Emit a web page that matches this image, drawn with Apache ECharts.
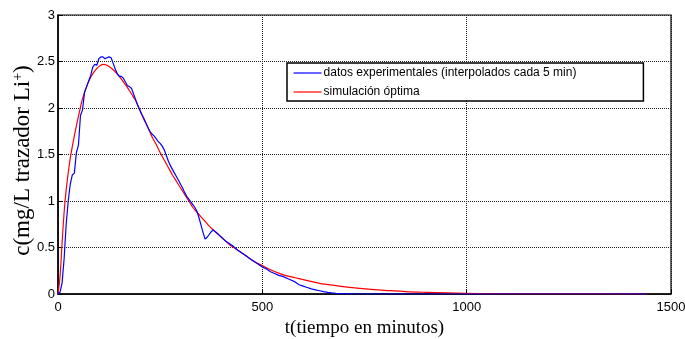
<!DOCTYPE html>
<html><head><meta charset="utf-8">
<script src="https://cdn.jsdelivr.net/npm/echarts@6/dist/echarts.min.js"></script>
<style>html,body{margin:0;padding:0;background:#fff}#c{width:685px;height:339px}</style>
</head><body><div id="c"></div>
<script>
var xTicks = [0, 500, 1000, 1500];
var yTicks = [0, 0.5, 1, 1.5, 2, 2.5, 3];
var seriesNames = ['datos experimentales (interpolados cada 5 min)', 'simulación óptima'];

var expT = [0,5,10,15,20,25,30,35,40,45,50,55,60,65,70,75,80,85,90,95,100,105,110,115,120,125,130,135,140,145,150,155,160,165,170,175,180,185,190,195,200,205,210,215,220,225,230,235,240,245,250,255,260,265,270,275,280,285,290,295,300,305,310,315,320,325,330,335,340,345,350,355,360,365,370,375,380,385,390,395,400,405,410,420,430,440,450,460,470,480,490,500,510,520,530,540,550,560,570,580,590,600,610,620,630,640,650,660,670,680,690,700,720,750,900,1100,1300,1440];
var expC = [0,0.02,0.12,0.38,0.75,1.0,1.18,1.28,1.30,1.52,1.60,1.92,1.98,2.17,2.23,2.29,2.35,2.44,2.47,2.46,2.53,2.55,2.55,2.53,2.54,2.55,2.54,2.48,2.42,2.37,2.34,2.34,2.32,2.28,2.24,2.23,2.21,2.15,2.09,2.03,1.98,1.93,1.89,1.84,1.79,1.75,1.72,1.70,1.67,1.64,1.62,1.59,1.55,1.49,1.43,1.38,1.34,1.30,1.26,1.22,1.18,1.14,1.09,1.05,1.02,0.99,0.96,0.93,0.89,0.82,0.74,0.66,0.59,0.61,0.64,0.67,0.69,0.67,0.65,0.63,0.61,0.59,0.57,0.54,0.51,0.47,0.44,0.41,0.38,0.35,0.32,0.29,0.27,0.24,0.22,0.20,0.19,0.17,0.15,0.13,0.10,0.085,0.07,0.055,0.045,0.035,0.025,0.018,0.012,0.008,0.005,0.003,0.001,0,0,0,0,0];

var simT = [0,5,10,15,20,25,30,40,50,60,70,80,90,100,110,120,130,140,150,160,170,180,190,200,210,220,230,240,250,260,270,280,290,300,310,320,330,340,350,360,370,380,390,400,420,440,460,480,500,520,540,560,580,600,640,680,720,760,800,850,900,950,1000,1050,1100,1200,1440];
var simC = [0,0.19,0.55,0.88,1.12,1.30,1.46,1.70,1.91,2.10,2.23,2.33,2.40,2.445,2.47,2.46,2.43,2.39,2.34,2.28,2.22,2.15,2.08,1.98,1.88,1.79,1.69,1.61,1.52,1.44,1.36,1.28,1.21,1.14,1.07,1.00,0.93,0.88,0.83,0.78,0.73,0.69,0.65,0.61,0.53,0.47,0.41,0.35,0.305,0.26,0.225,0.195,0.175,0.155,0.115,0.09,0.068,0.052,0.04,0.026,0.018,0.012,0.007,0.004,0.002,0.001,0];

function pairs(t, c) { return t.map(function (v, i) { return [v, c[i]]; }); }

var chart = echarts.init(document.getElementById('c'));
var gridLine = { show: true, lineStyle: { color: '#222', type: [1, 1], width: 1 } };
chart.setOption({
  animation: false,
  grid: { left: 58, right: 14, top: 15, bottom: 45, containLabel: false, outerBoundsMode: 'none',
          show: true, borderColor: '#000', borderWidth: 1.2, backgroundColor: '#fff' },
  xAxis: {
    type: 'value', min: xTicks[0], max: xTicks[xTicks.length - 1], interval: 500,
    name: 't(tiempo en minutos)', nameLocation: 'middle', nameGap: 25, nameMoveOverlap: false,
    nameTextStyle: { fontFamily: 'Liberation Serif', fontSize: 19, color: '#000' },
    axisLine: { show: true, lineStyle: { color: '#000', width: 1.5 } },
    axisTick: { show: true, inside: true, length: 5, lineStyle: { color: '#000' } },
    axisLabel: { fontFamily: 'Liberation Sans', fontSize: 13, color: '#000', margin: 7,
                 formatter: function (v) { return String(v); } },
    splitLine: gridLine
  },
  yAxis: {
    type: 'value', min: yTicks[0], max: yTicks[yTicks.length - 1], interval: 0.5,
    name: '{a|c(mg/L trazador Li}{b|+}{a|)}', nameLocation: 'middle', nameGap: 23, nameMoveOverlap: false,
    nameTextStyle: { color: '#000', padding: [0, 12, 0, 0], rich: {
      a: { fontFamily: 'Liberation Serif', fontSize: 23, color: '#000' },
      b: { fontFamily: 'Liberation Serif', fontSize: 14, color: '#000', verticalAlign: 'top', padding: [0, 0, 10, 0] }
    } },
    axisLine: { show: true, lineStyle: { color: '#000', width: 1.5 } },
    axisTick: { show: true, inside: true, length: 5, lineStyle: { color: '#000' } },
    axisLabel: { fontFamily: 'Liberation Sans', fontSize: 13, color: '#000', margin: 3,
                 formatter: function (v) { return String(v); } },
    splitLine: gridLine
  },
  legend: {
    orient: 'vertical', left: 287, top: 63,
    padding: [4, 67, 3, 6], itemGap: 7, itemWidth: 28, itemHeight: 14,
    backgroundColor: '#fff', borderColor: '#000', borderWidth: 1.5, borderRadius: 0,
    itemStyle: { opacity: 0 },
    lineStyle: { width: 1.2 },
    textStyle: { fontFamily: 'Liberation Sans', fontSize: 12, color: '#000', padding: [0, 0, 0, -3] },
    data: seriesNames
  },
  series: [
    { name: seriesNames[0], type: 'line', data: pairs(expT, expC), symbol: 'none', showSymbol: false,
      lineStyle: { color: '#0000ff', width: 1.2 }, itemStyle: { color: '#0000ff' }, z: 3 },
    { name: seriesNames[1], type: 'line', data: pairs(simT, simC), symbol: 'none', showSymbol: false, smooth: 0.3,
      lineStyle: { color: '#ff0000', width: 1.2 }, itemStyle: { color: '#ff0000' }, z: 2 }
  ]
});
</script></body></html>
